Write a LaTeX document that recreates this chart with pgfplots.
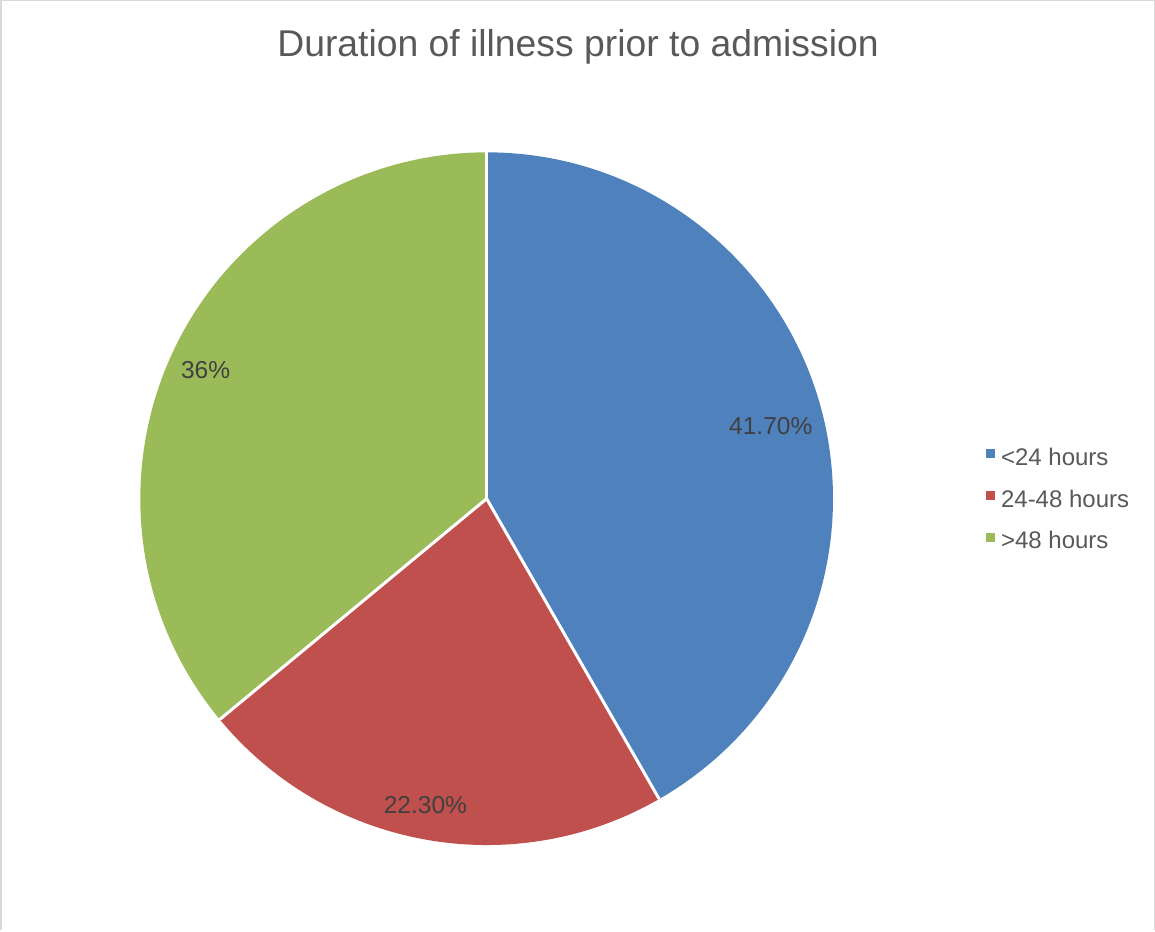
\documentclass[border=0pt]{standalone}
\usepackage{pgfplots}
\pgfplotsset{compat=1.18}
\usepackage{pgfplotstable}
\usepackage{fontspec}
\setmainfont{Liberation Sans}

\definecolor{shareA}{HTML}{4F81BD}
\definecolor{shareB}{HTML}{C0504D}
\definecolor{shareC}{HTML}{9BBB59}
\definecolor{titlegray}{HTML}{595959}
\definecolor{labelgray}{HTML}{404040}
\definecolor{framegray}{HTML}{D9D9D9}

% Share of patients by duration of illness before admission (%)
\pgfplotstableread{
share
41.7
22.3
36
}\sharetable

\pgfplotstablegetelem{0}{share}\of\sharetable \let\va\pgfplotsretval
\pgfplotstablegetelem{1}{share}\of\sharetable \let\vb\pgfplotsretval
\pgfplotstablegetelem{2}{share}\of\sharetable \let\vc\pgfplotsretval

% slice boundaries, clockwise from 12 o'clock
\pgfmathsetmacro\aA{90}
\pgfmathsetmacro\aB{\aA-3.6*\va}
\pgfmathsetmacro\aC{\aB-3.6*\vb}
\pgfmathsetmacro\aD{\aC-3.6*\vc}

\def\cx{487}
\def\cy{430}
\def\rad{345bp}

\begin{document}
\begin{tikzpicture}
\begin{axis}[
  width=1155bp, height=927bp, scale only axis,
  xmin=0, xmax=1155, ymin=0, ymax=927,
  hide axis, clip=false,
  legend style={
    at={(axis cs:984,481)}, anchor=north west,
    draw=none, fill=none, inner sep=0pt, outer sep=0pt,
    font=\fontsize{24}{28}\selectfont, text=titlegray,
    row sep=18.5bp,
    nodes={inner sep=0pt, text height=18bp, text depth=5bp},
    /tikz/every odd column/.append style={column sep=7bp},
  },
  legend cell align=left,
  legend image code/.code={\fill[#1] (0bp,1.5bp) rectangle (8bp,9.5bp);},
]
  \fill[shareA] (axis cs:\cx,\cy) -- ++(\aA:\rad) arc[start angle=\aA, end angle=\aB, radius=\rad] -- cycle;
  \fill[shareB] (axis cs:\cx,\cy) -- ++(\aB:\rad) arc[start angle=\aB, end angle=\aC, radius=\rad] -- cycle;
  \fill[shareC] (axis cs:\cx,\cy) -- ++(\aC:\rad) arc[start angle=\aC, end angle=\aD, radius=\rad] -- cycle;
  % white seams between slices
  \draw[white, line width=3bp] (axis cs:\cx,\cy) -- ++(\aA:\rad);
  \draw[white, line width=3bp] (axis cs:\cx,\cy) -- ++(\aB:\rad);
  \draw[white, line width=3bp] (axis cs:\cx,\cy) -- ++(\aC:\rad);

  % data labels
  \node[anchor=base, text=labelgray, font=\fontsize{24.5}{28}\selectfont] at (axis cs:770,494) {41.70\%};
  \node[anchor=base, text=labelgray, font=\fontsize{24.5}{28}\selectfont] at (axis cs:426,116) {22.30\%};
  \node[anchor=base, text=labelgray, font=\fontsize{24.5}{28}\selectfont] at (axis cs:207,550) {36\%};

  % title
  \node[anchor=base, text=titlegray, font=\fontsize{37.3}{44}\selectfont] at (axis cs:578,870) {Duration of illness prior to admission};

  % chart frame
  \draw[framegray, line width=1.5bp] (axis cs:3,0) -- (axis cs:3,926) -- (axis cs:1152,926) -- (axis cs:1152,0);

  \addlegendimage{shareA}
  \addlegendentry{<24 hours}
  \addlegendimage{shareB}
  \addlegendentry{24-48 hours}
  \addlegendimage{shareC}
  \addlegendentry{>48 hours}
\end{axis}
\end{tikzpicture}
\end{document}
